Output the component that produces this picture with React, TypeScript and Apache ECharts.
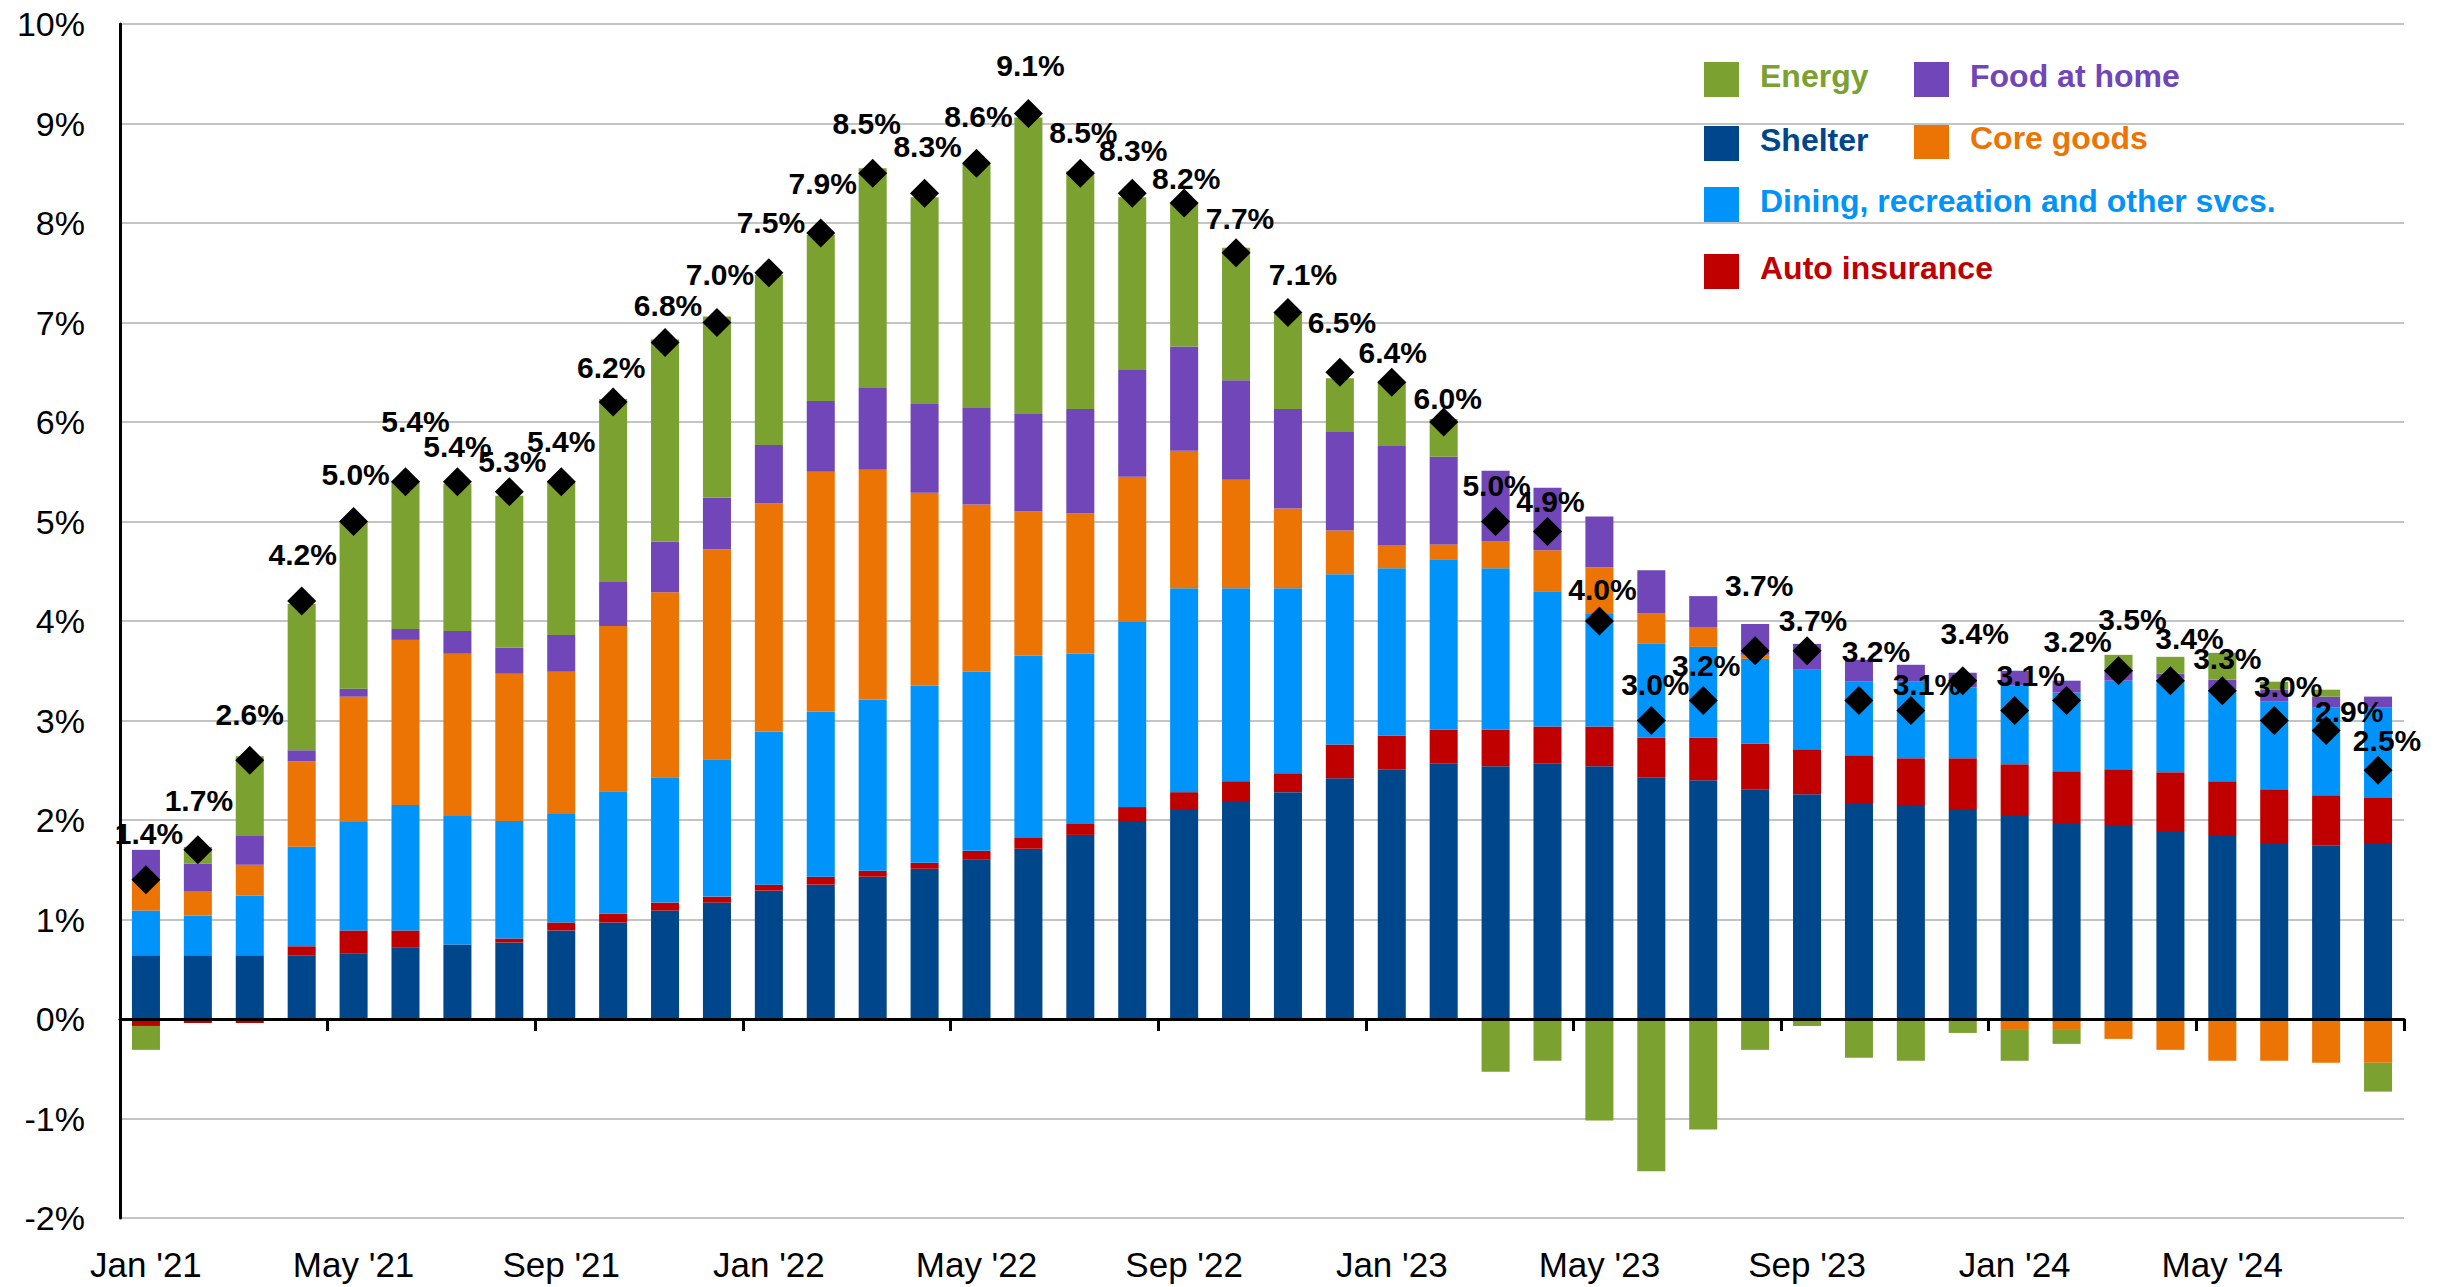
import React, { useEffect, useRef } from "react";
import * as echarts from "echarts";

const categories = [
  "Jan '21", "Feb '21", "Mar '21", "Apr '21", "May '21", "Jun '21", "Jul '21", "Aug '21", "Sep '21", "Oct '21", "Nov '21", "Dec '21",
  "Jan '22", "Feb '22", "Mar '22", "Apr '22", "May '22", "Jun '22", "Jul '22", "Aug '22", "Sep '22", "Oct '22", "Nov '22", "Dec '22",
  "Jan '23", "Feb '23", "Mar '23", "Apr '23", "May '23", "Jun '23", "Jul '23", "Aug '23", "Sep '23", "Oct '23", "Nov '23", "Dec '23",
  "Jan '24", "Feb '24", "Mar '24", "Apr '24", "May '24", "Jun '24", "Jul '24", "Aug '24",
];

const shelter = [
  0.64, 0.64, 0.64, 0.64, 0.66, 0.72, 0.75, 0.77, 0.89, 0.97, 1.09, 1.17,
  1.29, 1.35, 1.43, 1.51, 1.6, 1.71, 1.85, 1.99, 2.11, 2.19, 2.28, 2.42,
  2.51, 2.57, 2.54, 2.57, 2.54, 2.43, 2.4, 2.31, 2.26, 2.17, 2.14, 2.11,
  2.05, 1.97, 1.94, 1.88, 1.85, 1.77, 1.74, 1.77,
];
const autoInsurance = [
  -0.07, -0.04, -0.04, 0.09, 0.23, 0.17, 0.0, 0.04, 0.08, 0.09, 0.08, 0.06,
  0.06, 0.08, 0.06, 0.06, 0.09, 0.11, 0.11, 0.14, 0.17, 0.2, 0.19, 0.34,
  0.34, 0.34, 0.37, 0.37, 0.4, 0.4, 0.43, 0.46, 0.45, 0.48, 0.48, 0.51,
  0.51, 0.52, 0.57, 0.6, 0.54, 0.54, 0.51, 0.45,
];
const diningRecreation = [
  0.45, 0.4, 0.6, 1.0, 1.09, 1.26, 1.29, 1.18, 1.09, 1.23, 1.26, 1.38,
  1.54, 1.66, 1.72, 1.78, 1.8, 1.83, 1.71, 1.86, 2.05, 1.94, 1.86, 1.71,
  1.68, 1.71, 1.62, 1.36, 1.13, 0.94, 0.91, 0.85, 0.8, 0.74, 0.77, 0.71,
  0.79, 0.79, 0.89, 0.94, 0.92, 0.88, 0.88, 0.91,
];
const coreGoods = [
  0.3, 0.24, 0.31, 0.86, 1.26, 1.66, 1.63, 1.48, 1.43, 1.66, 1.86, 2.11,
  2.29, 2.41, 2.31, 1.94, 1.68, 1.45, 1.41, 1.46, 1.38, 1.09, 0.8, 0.44,
  0.23, 0.15, 0.27, 0.41, 0.47, 0.31, 0.2, 0.04, 0.0, 0.0, 0.0, 0.0,
  -0.11, -0.11, -0.2, -0.31, -0.42, -0.42, -0.44, -0.44,
];
const foodAtHome = [
  0.31, 0.28, 0.29, 0.11, 0.08, 0.11, 0.23, 0.26, 0.37, 0.45, 0.51, 0.52,
  0.59, 0.71, 0.83, 0.89, 0.97, 0.98, 1.05, 1.08, 1.05, 1.0, 1.0, 0.99,
  1.0, 0.88, 0.71, 0.63, 0.51, 0.43, 0.31, 0.31, 0.26, 0.22, 0.17, 0.15,
  0.15, 0.12, 0.11, 0.05, 0.1, 0.12, 0.11, 0.11,
];
const energy = [
  -0.24, 0.17, 0.8, 1.47, 1.67, 1.49, 1.48, 1.53, 1.55, 1.83, 2.03, 1.82,
  1.71, 1.67, 2.2, 2.08, 2.45, 2.98, 2.39, 1.73, 1.44, 1.33, 0.96, 0.54,
  0.64, 0.38, -0.53, -0.42, -1.02, -1.53, -1.11, -0.31, -0.07, -0.39, -0.42, -0.14,
  -0.31, -0.14, 0.15, 0.17, 0.27, 0.08, 0.07, -0.29,
];
const headlineCpi = [
  1.4, 1.7, 2.6, 4.2, 5.0, 5.4, 5.4, 5.3, 5.4, 6.2, 6.8, 7.0,
  7.5, 7.9, 8.5, 8.3, 8.6, 9.1, 8.5, 8.3, 8.2, 7.7, 7.1, 6.5,
  6.4, 6.0, 5.0, 4.9, 4.0, 3.0, 3.2, 3.7, 3.7, 3.2, 3.1, 3.4,
  3.1, 3.2, 3.5, 3.4, 3.3, 3.0, 2.9, 2.5,
];

// Label placement style (pixel nudges of each headline label from its diamond), not data.
const labelNudge: [number, number][] = [
  [3, -46], [1, -49], [0, -46], [1, -47], [2, -47], [10, -60], [0, -35], [3, -30],
  [0, -40], [-2, -35], [3, -37], [3, -48], [2, -50], [2, -49], [-6, -50], [3, -47],
  [2, -47], [2, -48], [3, -41], [1, -43], [2, -25], [4, -34], [15, -38], [2, -50],
  [1, -30], [4, -24], [1, -36], [3, -30], [3, -32], [4, -36], [3, -35], [4, -65],
  [6, -30], [17, -49], [16, -26], [12, -47], [16, -35], [11, -59], [14, -51], [19, -42],
  [5, -32], [14, -34], [23, -19], [9, -30],
];

const FONT = '"Liberation Sans", Arial, Helvetica, sans-serif';

const COLORS = {
  shelter: "#00468b",
  auto: "#c00000",
  dining: "#0094fa",
  core: "#ec7404",
  food: "#7046b8",
  energy: "#7ba131",
};

const barSeries = [
  { name: "Shelter", data: shelter, color: COLORS.shelter },
  { name: "Auto insurance", data: autoInsurance, color: COLORS.auto },
  { name: "Dining, recreation and other svcs.", data: diningRecreation, color: COLORS.dining },
  { name: "Core goods", data: coreGoods, color: COLORS.core },
  { name: "Food at home", data: foodAtHome, color: COLORS.food },
  { name: "Energy", data: energy, color: COLORS.energy },
];

const legendItems = [
  { name: "Energy", color: COLORS.energy, x: 1704, y: 62 },
  { name: "Food at home", color: COLORS.food, x: 1914, y: 62 },
  { name: "Shelter", color: COLORS.shelter, x: 1704, y: 126 },
  { name: "Core goods", color: COLORS.core, x: 1914, y: 124 },
  { name: "Dining, recreation and other svcs.", color: COLORS.dining, x: 1704, y: 187 },
  { name: "Auto insurance", color: COLORS.auto, x: 1704, y: 254 },
];

export default function App() {
  const ref = useRef<HTMLDivElement>(null);

  useEffect(() => {
    if (!ref.current) return;
    const chart = echarts.init(ref.current, undefined, { renderer: "svg" });

    const graphic: any[] = [];
    legendItems.forEach((it) => {
      graphic.push({
        type: "rect",
        left: it.x,
        top: it.y,
        shape: { width: 35, height: 35 },
        style: { fill: it.color },
      });
      graphic.push({
        type: "text",
        x: it.x + 56,
        y: it.y + 14,
        style: {
          text: it.name,
          fill: it.color,
          fontSize: 32,
          fontWeight: "bold",
          fontFamily: FONT,
          verticalAlign: "middle",
          align: "left",
        },
      });
    });

    const cpiData = headlineCpi.map((v, i) => ({
      value: v,
      label: { offset: labelNudge[i] || [0, -47] },
    }));

    const option: any = {
      animation: false,
      backgroundColor: "#ffffff",
      grid: { left: 120, right: 40, top: 24, bottom: 69, containLabel: false },
      xAxis: [
        {
          type: "category",
          data: categories,
          z: 10,
          axisLine: { show: true, onZero: true, lineStyle: { color: "#000", width: 3 } },
          axisTick: { show: true, interval: 3, alignWithLabel: false, length: 12, lineStyle: { color: "#000", width: 3 } },
          axisLabel: { show: false },
          splitLine: { show: false },
        },
        {
          type: "category",
          data: categories,
          position: "bottom",
          axisLine: { show: false, onZero: false },
          axisTick: { show: false },
          axisLabel: { show: true, interval: 3, fontSize: 35, color: "#000", fontFamily: FONT, margin: 29 },
          splitLine: { show: false },
        },
      ],
      yAxis: {
        type: "value",
        min: -2,
        max: 10,
        interval: 1,
        axisLine: { show: true, lineStyle: { color: "#000", width: 3 } },
        axisTick: { show: false },
        axisLabel: { formatter: "{value}%", fontSize: 34, color: "#000", fontFamily: FONT, margin: 35 },
        splitLine: { show: true, lineStyle: { color: "#c4c4c4", width: 2 } },
      },
      graphic,
      series: [
        ...barSeries.map((s) => ({
          name: s.name,
          type: "bar",
          stack: "cpi",
          xAxisIndex: 0,
          yAxisIndex: 0,
          barWidth: "54%",
          data: s.data,
          itemStyle: { color: s.color },
        })),
        {
          name: "Headline CPI",
          type: "scatter",
          xAxisIndex: 0,
          yAxisIndex: 0,
          data: cpiData,
          symbol: "diamond",
          symbolSize: 29,
          z: 5,
          itemStyle: { color: "#000", opacity: 1 },
          label: {
            show: true,
            position: "inside",
            formatter: (p: any) => Number(p.value).toFixed(1) + "%",
            fontSize: 30,
            fontWeight: "bold",
            color: "#000",
            fontFamily: FONT,
            textBorderWidth: 0,
            align: "center",
            verticalAlign: "middle",
          },
        },
      ],
    };

    chart.setOption(option);
    return () => chart.dispose();
  }, []);

  return (
    <div
      ref={ref}
      style={{ position: "absolute", left: 0, top: 0, width: 2444, height: 1287, background: "#fff" }}
    />
  );
}
